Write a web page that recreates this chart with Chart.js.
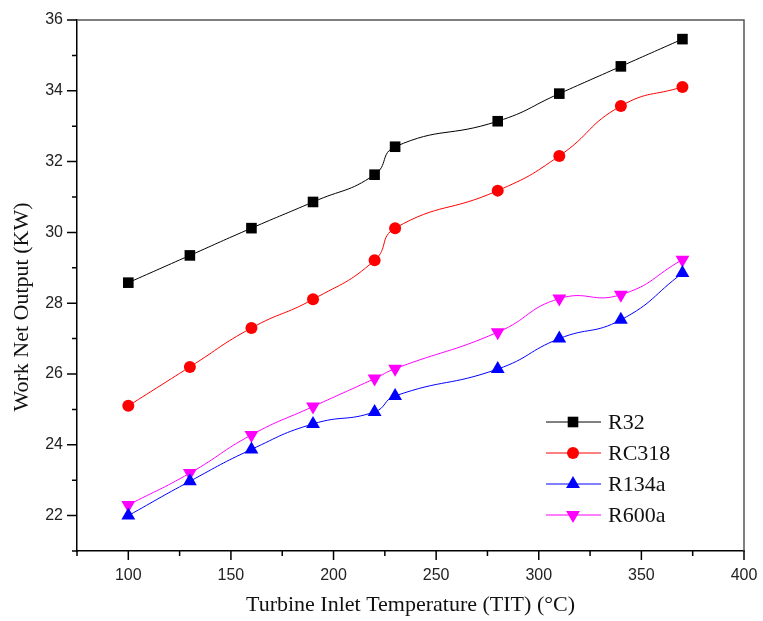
<!DOCTYPE html>
<html>
<head>
<meta charset="utf-8">
<script src="https://cdn.jsdelivr.net/npm/chart.js@4/dist/chart.umd.min.js"></script>
<style>
  html, body { margin: 0; padding: 0; background: #fff; }
  #wrap { width: 763px; height: 621px; }
</style>
</head>
<body>
<div id="wrap"><canvas id="workChart" width="763" height="621"></canvas></div>
<script>
// Turbine inlet temperature (°C)
const temps = [100, 130, 160, 190, 220, 230, 280, 310, 340, 370];

// Work net output (KW) per working fluid
const r32   = [28.58, 29.35, 30.12, 30.86, 31.63, 32.42, 33.14, 33.92, 34.69, 35.46];
const rc318 = [25.10, 26.20, 27.30, 28.11, 29.21, 30.12, 31.18, 32.16, 33.57, 34.11];
const r134a = [22.00, 22.97, 23.87, 24.59, 24.93, 25.38, 26.14, 27.00, 27.53, 28.85];
const r600a = [22.30, 23.20, 24.28, 25.08, 25.87, 26.15, 27.18, 28.13, 28.24, 29.23];

const fluidNames = ['R32', 'RC318', 'R134a', 'R600a'];

const serif = '"Liberation Serif", "Times New Roman", serif';
const sans = '"Liberation Sans", Arial, sans-serif';

function series(label, values, color, pointStyle, radius, rotation) {
  return {
    label: label,
    data: temps.map((t, i) => ({ x: t, y: values[i] })),
    borderColor: color,
    backgroundColor: color,
    borderWidth: 1,
    pointStyle: pointStyle,
    pointRadius: radius,
    pointRotation: rotation,
    pointBorderWidth: 0,
    tension: 0.5,
    fill: false
  };
}

// minor/major ticks, frame, y title and a line+marker legend
const decorations = {
  id: 'decorations',
  afterDraw(chart) {
    const ctx = chart.ctx;
    const area = chart.chartArea;
    const xs = chart.scales.x;
    const ys = chart.scales.y;
    ctx.save();

    // top and right frame
    ctx.strokeStyle = '#555';
    ctx.lineWidth = 1.5;
    ctx.beginPath();
    ctx.moveTo(area.left, area.top);
    ctx.lineTo(area.right, area.top);
    ctx.lineTo(area.right, area.bottom);
    ctx.stroke();

    // ticks
    ctx.strokeStyle = '#000';
    ctx.lineWidth = 1.5;
    ctx.beginPath();
    xs.ticks.forEach(t => {
      const px = xs.getPixelForValue(t.value);
      const len = t.value % 50 === 0 ? 9 : 5;
      ctx.moveTo(px, area.bottom);
      ctx.lineTo(px, area.bottom + len);
    });
    ys.ticks.forEach(t => {
      const py = ys.getPixelForValue(t.value);
      const len = t.value % 2 === 0 ? 10 : 5;
      ctx.moveTo(area.left, py);
      ctx.lineTo(area.left - len, py);
    });
    ctx.stroke();

    // y axis title
    ctx.fillStyle = '#111';
    ctx.font = '22px ' + serif;
    ctx.textAlign = 'center';
    ctx.textBaseline = 'middle';
    ctx.translate(22, area.top + 287);
    ctx.rotate(-Math.PI / 2);
    ctx.fillText('Work Net Output (KW)', 0, 0);
    ctx.setTransform(1, 0, 0, 1, 0, 0);

    // legend
    const lx = area.right - 198;
    let ly = area.bottom - 129;
    ctx.textAlign = 'left';
    ctx.font = '22px ' + serif;
    chart.data.datasets.forEach(ds => {
      ctx.strokeStyle = ds.borderColor;
      ctx.lineWidth = 1;
      ctx.beginPath();
      ctx.moveTo(lx, ly);
      ctx.lineTo(lx + 55, ly);
      ctx.stroke();
      ctx.fillStyle = ds.backgroundColor;
      Chart.helpers.drawPoint(ctx, {
        pointStyle: ds.pointStyle,
        radius: ds.pointRadius,
        rotation: ds.pointRotation,
        borderWidth: 0
      }, lx + 27, ly);
      ctx.fillStyle = '#111';
      ctx.fillText(ds.label, lx + 62, ly + 1);
      ly += 31;
    });

    ctx.restore();
  }
};

new Chart(document.getElementById('workChart'), {
  type: 'line',
  data: {
    datasets: [
      series(fluidNames[0], r32, '#000000', 'rect', 7.5, 0),
      series(fluidNames[1], rc318, '#ff0000', 'circle', 6, 0),
      series(fluidNames[2], r134a, '#0000ff', 'triangle', 8, 0),
      series(fluidNames[3], r600a, '#ff00ff', 'triangle', 8, 180)
    ]
  },
  options: {
    responsive: false,
    animation: false,
    layout: { padding: { top: 20, right: 19, left: 0, bottom: 0 } },
    plugins: {
      legend: { display: false },
      tooltip: { enabled: false }
    },
    scales: {
      x: {
        type: 'linear',
        min: 75,
        max: 400,
        afterFit(scale) { scale.height = 70; },
        border: { display: true, color: '#000', width: 1.5 },
        grid: { drawOnChartArea: false, tickLength: 10, tickColor: 'rgba(0,0,0,0)' },
        ticks: {
          stepSize: 25,
          autoSkip: false,
          maxRotation: 0,
          padding: 5,
          color: '#222',
          font: { family: sans, size: 16 },
          callback: v => (v % 50 === 0 ? v : '')
        },
        title: {
          display: true,
          text: 'Turbine Inlet Temperature (TIT) (°C)',
          color: '#111',
          font: { family: serif, size: 22 },
          padding: { top: 0, bottom: 3 }
        }
      },
      y: {
        min: 21,
        max: 36,
        afterFit(scale) { scale.width = 77; },
        border: { display: true, color: '#000', width: 1.5 },
        grid: { drawOnChartArea: false, tickLength: 10, tickColor: 'rgba(0,0,0,0)' },
        ticks: {
          stepSize: 1,
          autoSkip: false,
          padding: 4,
          color: '#222',
          font: { family: sans, size: 16 },
          callback: v => (v % 2 === 0 ? v : '')
        }
      }
    }
  },
  plugins: [decorations]
});
</script>
</body>
</html>
